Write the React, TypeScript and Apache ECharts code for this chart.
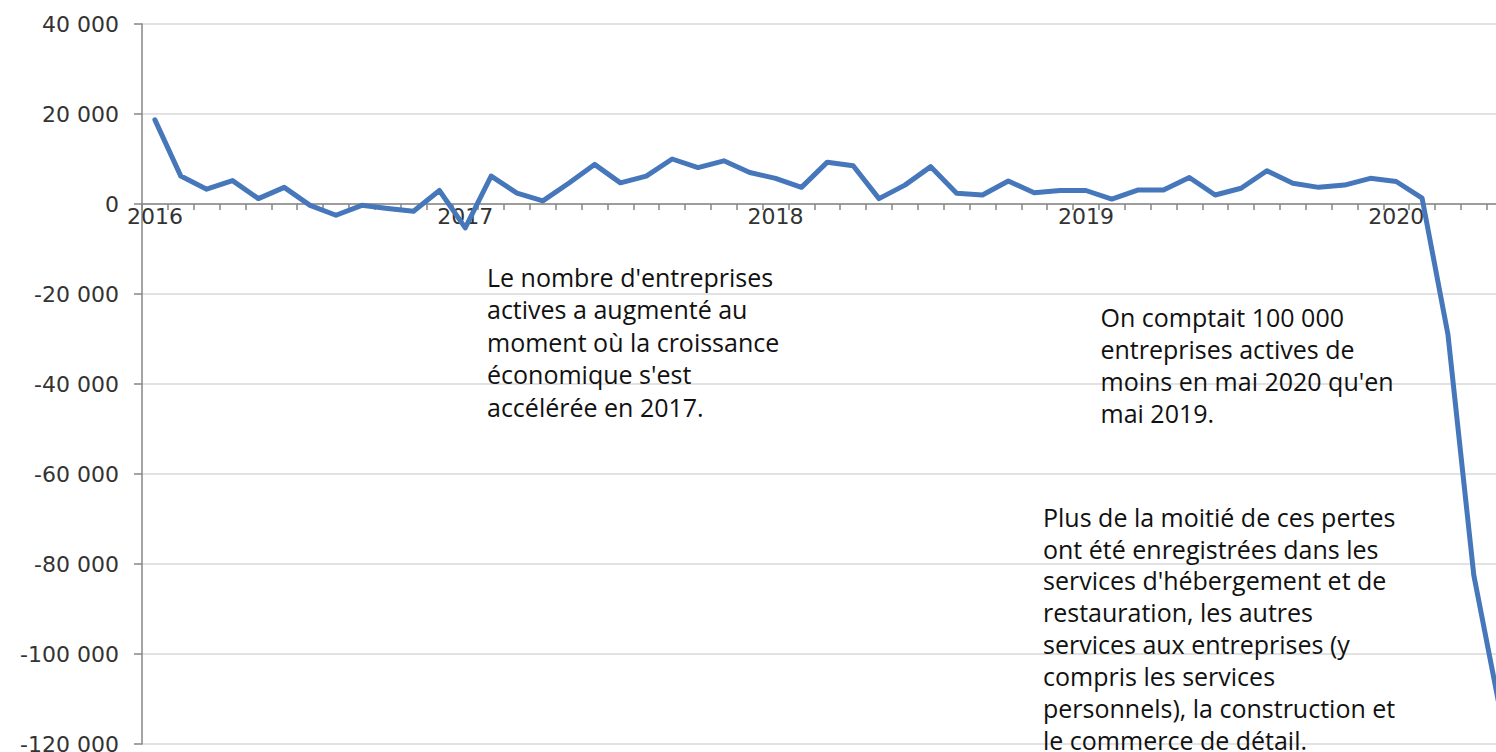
import React, { useEffect, useRef } from "react";
import * as echarts from "echarts";

const months = [
  "2016-01","2016-02","2016-03","2016-04","2016-05","2016-06","2016-07","2016-08","2016-09","2016-10","2016-11","2016-12",
  "2017-01","2017-02","2017-03","2017-04","2017-05","2017-06","2017-07","2017-08","2017-09","2017-10","2017-11","2017-12",
  "2018-01","2018-02","2018-03","2018-04","2018-05","2018-06","2018-07","2018-08","2018-09","2018-10","2018-11","2018-12",
  "2019-01","2019-02","2019-03","2019-04","2019-05","2019-06","2019-07","2019-08","2019-09","2019-10","2019-11","2019-12",
  "2020-01","2020-02","2020-03","2020-04","2020-05",
];

const values = [
  18700, 6200, 3300, 5200, 1200, 3700, -300, -2500, -300, -1000, -1600, 3000,
  -5300, 6200, 2400, 700, 4600, 8800, 4700, 6200, 10000, 8100, 9600, 7000,
  5700, 3700, 9300, 8500, 1200, 4200, 8300, 2400, 2000, 5100, 2500, 3000,
  3000, 1100, 3100, 3100, 5900, 2000, 3500, 7400, 4600, 3700, 4200, 5700,
  5000, 1300, -29000, -82500, -112000,
];

const yMin = -120000;
const yMax = 40000;
const yStep = 20000;

const note1 = [
  "Le nombre d'entreprises",
  "actives a augmenté au",
  "moment où la croissance",
  "économique s'est",
  "accélérée en 2017.",
];
const note2 = [
  "On comptait 100 000",
  "entreprises actives de",
  "moins en mai 2020 qu'en",
  "mai 2019.",
];
const note3 = [
  "Plus de la moitié de ces pertes",
  "ont été enregistrées dans les",
  "services d'hébergement et de",
  "restauration, les autres",
  "services aux entreprises (y",
  "compris les services",
  "personnels), la construction et",
  "le commerce de détail.",
];

function fmt(v: number): string {
  const s = Math.abs(v).toString().replace(/\B(?=(\d{3})+(?!\d))/g, " ");
  return (v < 0 ? "-" : "") + s;
}

const GRID_TOP = 24;
const GRID_H = 720;

export default function App() {
  const ref = useRef<HTMLDivElement>(null);
  useEffect(() => {
    if (!ref.current) return;
    const chart = echarts.init(ref.current, null, { renderer: "svg" });
    const noteFont = '25px "Open Sans"';
    const mkNote = (lines: string[], x: number, y: number, lh: number) => ({
      type: "text",
      x,
      y,
      z: 100,
      style: {
        text: lines.join("\n"),
        font: noteFont,
        fill: "#111",
        lineHeight: lh,
        align: "left",
        verticalAlign: "top",
      },
    });
    // x axis sits at value 0: offset from grid bottom
    const zeroOffset = -GRID_H * (0 - yMin) / (yMax - yMin);
    chart.setOption({
      animation: false,
      backgroundColor: "#ffffff",
      grid: {
        left: 142,
        top: GRID_TOP,
        height: GRID_H,
        width: 1370.6,
        containLabel: false,
        outerBoundsMode: "none",
      },
      xAxis: {
        type: "category",
        data: months,
        boundaryGap: true,
        position: "bottom",
        offset: zeroOffset,
        axisLine: { onZero: false, lineStyle: { color: "#868686", width: 1.5 } },
        axisTick: { show: true, interval: 0, length: 6, inside: false, lineStyle: { color: "#868686", width: 1.5 } },
        axisLabel: {
          interval: (i: number) => i % 12 === 0,
          formatter: (v: string) => v.slice(0, 4),
          margin: 1,
          fontFamily: "DejaVu Sans",
          fontSize: 22,
          color: "#333",
        },
        splitLine: { show: false },
      },
      yAxis: {
        type: "value",
        min: yMin,
        max: yMax,
        interval: yStep,
        axisLine: { show: true, lineStyle: { color: "#868686", width: 1.5 } },
        axisTick: { show: true, length: 8, lineStyle: { color: "#868686", width: 1.5 } },
        axisLabel: {
          formatter: (v: number) => fmt(v),
          margin: 23,
          fontFamily: "DejaVu Sans",
          fontSize: 22,
          color: "#333",
        },
        splitLine: { show: true, lineStyle: { color: "#d9d9d9", width: 1.5 } },
      },
      series: [
        {
          type: "line",
          data: values,
          symbol: "none",
          smooth: false,
          lineStyle: { color: "#4677BB", width: 5, join: "round", cap: "round" },
        },
      ],
      graphic: [
        mkNote(note1, 487, 260.5, 32.5),
        mkNote(note2, 1100.5, 300.5, 32.2),
        mkNote(note3, 1043, 500.7, 31.9),
      ],
    });
    return () => chart.dispose();
  }, []);
  return (
    <div style={{ position: "fixed", left: 0, top: 0, width: 1496, height: 752, background: "#fff", overflow: "hidden" }}>
      <div ref={ref} style={{ position: "absolute", left: 0, top: 0, width: 1560, height: 752 }} />
    </div>
  );
}
